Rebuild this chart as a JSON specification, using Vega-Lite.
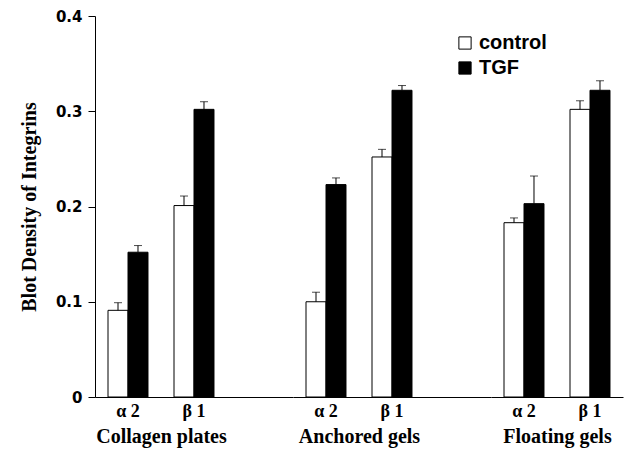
{
  "$schema": "https://vega.github.io/schema/vega-lite/v6.json",
  "padding": {"left": 19, "top": 9, "right": 2, "bottom": 4},
  "background": "white",
  "data": {"values": [
    {"group": "Collagen plates", "integrin": "α 2", "condition": "control", "value": 0.091, "upper": 0.099},
    {"group": "Collagen plates", "integrin": "α 2", "condition": "TGF", "value": 0.152, "upper": 0.159},
    {"group": "Collagen plates", "integrin": "β 1", "condition": "control", "value": 0.201, "upper": 0.211},
    {"group": "Collagen plates", "integrin": "β 1", "condition": "TGF", "value": 0.302, "upper": 0.31},
    {"group": "Anchored gels", "integrin": "α 2", "condition": "control", "value": 0.1, "upper": 0.11},
    {"group": "Anchored gels", "integrin": "α 2", "condition": "TGF", "value": 0.223, "upper": 0.23},
    {"group": "Anchored gels", "integrin": "β 1", "condition": "control", "value": 0.252, "upper": 0.26},
    {"group": "Anchored gels", "integrin": "β 1", "condition": "TGF", "value": 0.322, "upper": 0.327},
    {"group": "Floating gels", "integrin": "α 2", "condition": "control", "value": 0.183, "upper": 0.188},
    {"group": "Floating gels", "integrin": "α 2", "condition": "TGF", "value": 0.203, "upper": 0.232},
    {"group": "Floating gels", "integrin": "β 1", "condition": "control", "value": 0.302, "upper": 0.311},
    {"group": "Floating gels", "integrin": "β 1", "condition": "TGF", "value": 0.322, "upper": 0.332}
  ]},
  "spacing": 0,
  "resolve": {"scale": {"y": "shared", "fill": "shared"}},
  "hconcat": [
    {
      "width": 198, "height": 381,
      "transform": [{"filter": "datum.group === 'Collagen plates'"}],
      "encoding": {
        "x": {"field": "integrin", "type": "nominal", "scale": {"domain": ["α 2", "β 1", "gap"], "paddingInner": 0.394, "paddingOuter": 0.197},
              "axis": {"title": "Collagen plates", "titleX": 66, "labelExpr": "datum.label == 'gap' ? '' : datum.label"}},
        "xOffset": {"field": "condition", "type": "nominal", "sort": ["control", "TGF"], "scale": {"paddingInner": 0, "paddingOuter": 0}}
      },
      "layer": [
        {"mark": {"type": "bar", "stroke": "black", "strokeWidth": 1},
         "encoding": {
           "y": {"field": "value", "type": "quantitative", "scale": {"domain": [0, 0.4]},
                 "axis": {"title": "Blot Density of Integrins", "values": [0, 0.1, 0.2, 0.3, 0.4], "format": ".1~f", "grid": false,
                          "domainColor": "black", "tickColor": "black", "tickSize": 7, "labelPadding": 6,
                          "titleFontSize": 20, "titlePadding": 16}},
           "fill": {"field": "condition", "type": "nominal", "scale": {"domain": ["control", "TGF"], "range": ["white", "black"]},
                    "legend": {"title": null, "orient": "none", "legendX": 360, "legendY": 17, "symbolType": "square", "symbolSize": 150,
                               "symbolStrokeColor": "black", "symbolStrokeWidth": 1, "labelFont": "Liberation Sans", "labelFontWeight": "bold",
                               "labelFontSize": 20, "labelColor": "black", "rowPadding": 5, "labelOffset": 4}}
         }},
        {"mark": {"type": "rule", "color": "black", "strokeWidth": 1},
         "encoding": {"y": {"field": "value", "type": "quantitative"}, "y2": {"field": "upper"}}},
        {"mark": {"type": "tick", "color": "black", "thickness": 1, "size": 8},
         "encoding": {"y": {"field": "upper", "type": "quantitative"}}},
        {"mark": {"type": "rule", "color": "black", "strokeWidth": 1},
         "encoding": {"y": {"datum": 0, "type": "quantitative"}}}
      ]
    },
    {
      "width": 198, "height": 381,
      "transform": [{"filter": "datum.group === 'Anchored gels'"}],
      "encoding": {
        "x": {"field": "integrin", "type": "nominal", "scale": {"domain": ["α 2", "β 1", "gap"], "paddingInner": 0.394, "paddingOuter": 0.197},
              "axis": {"title": "Anchored gels", "titleX": 66, "labelExpr": "datum.label == 'gap' ? '' : datum.label"}},
        "xOffset": {"field": "condition", "type": "nominal", "sort": ["control", "TGF"], "scale": {"paddingInner": 0, "paddingOuter": 0}}
      },
      "layer": [
        {"mark": {"type": "bar", "stroke": "black", "strokeWidth": 1},
         "encoding": {
           "y": {"field": "value", "type": "quantitative", "scale": {"domain": [0, 0.4]}, "axis": null},
           "fill": {"field": "condition", "type": "nominal", "scale": {"domain": ["control", "TGF"], "range": ["white", "black"]}, "legend": null}
         }},
        {"mark": {"type": "rule", "color": "black", "strokeWidth": 1},
         "encoding": {"y": {"field": "value", "type": "quantitative", "axis": null}, "y2": {"field": "upper"}}},
        {"mark": {"type": "tick", "color": "black", "thickness": 1, "size": 8},
         "encoding": {"y": {"field": "upper", "type": "quantitative", "axis": null}}},
        {"mark": {"type": "rule", "color": "black", "strokeWidth": 1},
         "encoding": {"y": {"datum": 0, "type": "quantitative", "axis": null}}}
      ]
    },
    {
      "width": 132, "height": 381,
      "transform": [{"filter": "datum.group === 'Floating gels'"}],
      "encoding": {
        "x": {"field": "integrin", "type": "nominal", "scale": {"domain": ["α 2", "β 1"], "paddingInner": 0.394, "paddingOuter": 0.197},
              "axis": {"title": "Floating gels"}},
        "xOffset": {"field": "condition", "type": "nominal", "sort": ["control", "TGF"], "scale": {"paddingInner": 0, "paddingOuter": 0}}
      },
      "layer": [
        {"mark": {"type": "bar", "stroke": "black", "strokeWidth": 1},
         "encoding": {
           "y": {"field": "value", "type": "quantitative", "scale": {"domain": [0, 0.4]}, "axis": null},
           "fill": {"field": "condition", "type": "nominal", "scale": {"domain": ["control", "TGF"], "range": ["white", "black"]}, "legend": null}
         }},
        {"mark": {"type": "rule", "color": "black", "strokeWidth": 1},
         "encoding": {"y": {"field": "value", "type": "quantitative", "axis": null}, "y2": {"field": "upper"}}},
        {"mark": {"type": "tick", "color": "black", "thickness": 1, "size": 8},
         "encoding": {"y": {"field": "upper", "type": "quantitative", "axis": null}}},
        {"mark": {"type": "rule", "color": "black", "strokeWidth": 1},
         "encoding": {"y": {"datum": 0, "type": "quantitative", "axis": null}}}
      ]
    }
  ],
  "config": {
    "view": {"stroke": null},
    "axisY": {"labelFont": "DejaVu Sans", "labelFontWeight": "bold", "labelFontSize": 15, "labelColor": "black",
              "titleFont": "Liberation Serif", "titleFontWeight": "bold", "titleFontSize": 20, "titleColor": "black"},
    "axisX": {"domain": true, "ticks": false, "domainColor": "black", "domainWidth": 1, "labelAngle": 0, "labelPadding": 5,
              "labelFont": "Liberation Serif", "labelFontWeight": "bold", "labelFontSize": 18, "labelColor": "black",
              "titleFont": "Liberation Serif", "titleFontWeight": "bold", "titleFontSize": 20, "titleColor": "black", "titlePadding": 6}
  }
}
